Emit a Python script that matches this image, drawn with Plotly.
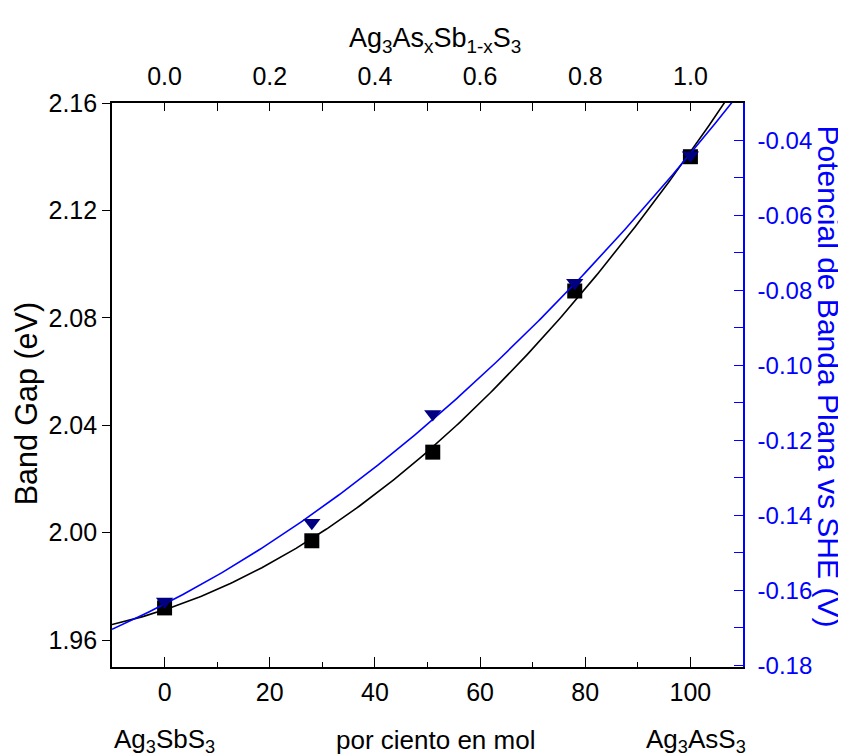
import numpy as np
import plotly.graph_objects as go

# data
mol_pct = [0, 28, 51, 78, 100]
band_gap = [1.972, 1.997, 2.030, 2.090, 2.140]
flatband = [-0.163, -0.142, -0.113, -0.078, -0.044]

# right-axis tick labels (hyphen minus as in the original)
right_tickvals = [-0.18, -0.16, -0.14, -0.12, -0.10, -0.08, -0.06, -0.04]
right_ticktext = ["-0.18", "-0.16", "-0.14", "-0.12", "-0.10", "-0.08", "-0.06", "-0.04"]

x_fit = np.linspace(-10, 110, 241)
bg_fit = np.polyval(np.polyfit(mol_pct, band_gap, 2), x_fit)
fb_fit = np.polyval(np.polyfit(mol_pct, flatband, 2), x_fit)

FONT = "Liberation Sans, Arial, sans-serif"
BLUE = "#0000FF"
NAVY = "#000080"

fig = go.Figure()
fig.add_trace(go.Scatter(x=x_fit, y=bg_fit, mode="lines",
                         line=dict(color="black", width=1.6), hoverinfo="skip",
                         showlegend=False))
fig.add_trace(go.Scatter(x=mol_pct, y=band_gap, mode="markers",
                         marker=dict(symbol="square", size=15, color="black"),
                         showlegend=False))
fig.add_trace(go.Scatter(x=x_fit, y=fb_fit, mode="lines", yaxis="y2",
                         line=dict(color=BLUE, width=1.6), hoverinfo="skip",
                         showlegend=False))
fig.add_trace(go.Scatter(x=mol_pct, y=flatband, mode="markers", yaxis="y2",
                         marker=dict(symbol="triangle-down", size=15, color=NAVY),
                         showlegend=False))
# dummy trace to hold top axis
fig.add_trace(go.Scatter(x=[None], y=[None], xaxis="x2", showlegend=False))

fig.update_layout(
    width=838, height=748,
    margin=dict(l=104, r=103, t=95, b=89),
    paper_bgcolor="white", plot_bgcolor="white",
    font=dict(family=FONT, size=25, color="black"),
    xaxis=dict(range=[-10, 110], tick0=0, dtick=20, ticks="inside", ticklen=10,
               tickwidth=1.3, tickcolor="black", showline=True, linecolor="black",
               linewidth=1.6, showgrid=False, zeroline=False,
               minor=dict(dtick=10, tick0=0, ticks="inside", ticklen=5,
                          tickcolor="black", tickwidth=1.3),
               ticklabelstandoff=2),
    xaxis2=dict(range=[-0.1, 1.1], overlaying="x", side="top", anchor="y",
                tick0=0, dtick=0.2, tickformat=".1f", ticks="inside", ticklen=8,
                tickwidth=1.3, tickcolor="black", showline=True, linecolor="black",
                linewidth=1.6, showgrid=False, zeroline=False,
                minor=dict(dtick=0.1, tick0=0, ticks="inside", ticklen=8,
                           tickcolor="black", tickwidth=1.3),
                ticklabelstandoff=6),
    yaxis=dict(range=[1.95, 2.16], tick0=1.96, dtick=0.04, tickformat=".2f",
               ticks="outside", ticklen=8, tickwidth=1.3, tickcolor="black",
               showline=True, linecolor="black", linewidth=1.6,
               showgrid=False, zeroline=False),
    yaxis2=dict(range=[-0.1805, -0.0301], overlaying="y", side="right",
                tickmode="array", tickvals=right_tickvals, ticktext=right_ticktext,
                ticks="inside", ticklen=9, tickwidth=1.3, tickcolor=BLUE,
                tickfont=dict(color=BLUE, size=24), showline=True, linecolor=BLUE,
                linewidth=1.6, showgrid=False, zeroline=False,
                ticklabelstandoff=8,
                minor=dict(dtick=0.01, tick0=-0.18, ticks="inside", ticklen=9,
                           tickcolor=BLUE, tickwidth=1.3)),
)

ann = [
    dict(text="Band Gap (eV)", xref="paper", yref="paper", x=-0.136, y=0.466,
         textangle=-90, showarrow=False, font=dict(size=30.5, color="black"),
         xanchor="center", yanchor="middle"),
    dict(text="Potencial de Banda Plana vs SHE (V)", xref="paper", yref="paper",
         x=1.134, y=0.516, textangle=90, showarrow=False,
         font=dict(size=30, color=BLUE), xanchor="center", yanchor="middle"),
    dict(text="Ag<sub>3</sub>As<sub>x</sub>Sb<sub>1-x</sub>S<sub>3</sub>",
         xref="paper", yref="paper", x=0.512, y=1.112, showarrow=False,
         font=dict(size=27), xanchor="center", yanchor="middle"),
    dict(text="Ag<sub>3</sub>SbS<sub>3</sub>", xref="x", yref="paper", x=0,
         y=-0.13, showarrow=False, font=dict(size=26), xanchor="center",
         yanchor="middle"),
    dict(text="por ciento en mol", xref="paper", yref="paper", x=0.512,
         y=-0.13, showarrow=False, font=dict(size=26), xanchor="center",
         yanchor="middle"),
    dict(text="Ag<sub>3</sub>AsS<sub>3</sub>", xref="x", yref="paper", x=101,
         y=-0.13, showarrow=False, font=dict(size=26), xanchor="center",
         yanchor="middle"),
]
fig.update_layout(annotations=ann)

fig.write_html("out.html")
